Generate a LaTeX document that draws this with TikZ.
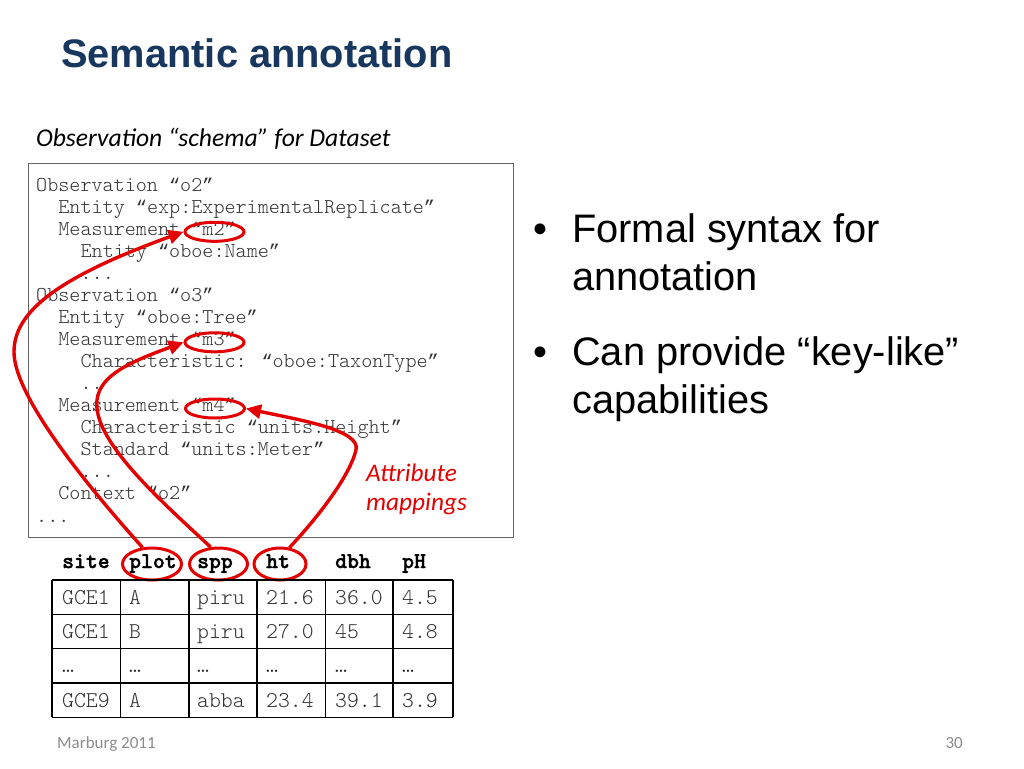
\documentclass[tikz,border=0pt]{standalone}
\usepackage{fontspec}
\setmainfont{Liberation Sans}
\newfontfamily\codefont{Latin Modern Mono Light}
\newfontfamily\hdrfont[BoldFeatures={FakeBold=1.6}]{Latin Modern Mono Light}
\newfontfamily\quotefont{Liberation Mono}
\newfontfamily\calfont{Carlito}
\newcommand\qL{{\quotefont\fontsize{18.5}{22}\selectfont “}}
\newcommand\qR{{\quotefont\fontsize{18.5}{22}\selectfont ”}}
\usetikzlibrary{shapes.geometric,arrows.meta}
\definecolor{titleblue}{RGB}{23,55,94}
\definecolor{annred}{RGB}{228,0,0}
\definecolor{codegray}{RGB}{50,50,50}
\definecolor{footgray}{RGB}{140,140,140}
\definecolor{boxgray}{RGB}{100,100,100}
\tikzset{
  codeline/.style={anchor=base west, inner sep=0, font=\codefont\fontsize{21.1}{25}\selectfont, text=codegray},
  cell/.style={anchor=base west, inner sep=0, font=\codefont\fontsize{22.6}{26}\selectfont, text=codegray},
  hcell/.style={anchor=base west, inner sep=0, font=\hdrfont\bfseries\fontsize{22.6}{26}\selectfont, text=black},
  hl/.style={ellipse, draw=annred, line width=3pt, inner sep=0},
  maparrow/.style={draw=annred, line width=3.4pt, -{Triangle[length=15pt,width=14pt]}},
  bullettext/.style={anchor=base west, inner sep=0, font=\fontsize{39.8}{47}\selectfont, text=black},
  redtext/.style={anchor=base west, inner sep=0, font=\calfont\itshape\fontsize{25.3}{30}\selectfont, text=annred},
  tline/.style={draw=black, line width=1.3pt}
}
\begin{document}
\begin{tikzpicture}[x=1pt,y=-1pt]
\useasboundingbox[fill=white] (0,0) rectangle (1024,768);

% title
\node[anchor=base west, inner sep=0, font=\bfseries\fontsize{39.8}{47}\selectfont, text=titleblue] (title) at (61,67) {Semantic annotation};

% subtitle
\node[anchor=base west, inner sep=0, font=\calfont\itshape\fontsize{25.6}{30}\selectfont] (sub) at (36,146) {Observation “schema” for Dataset};

% code box
\node[draw=boxgray, line width=1.2pt, fill=white, minimum width=485pt, minimum height=374pt, anchor=north west, inner sep=0] (box) at (28,163) {};

\node[codeline] (c0) at (36,191.0) {Observation \qL o2\qR};
\node[codeline] (c1) at (58.2,213.07) {Entity \qL exp:ExperimentalReplicate\qR};
\node[codeline] (c2) at (58.2,235.14) {Measurement \qL m2\qR};
\node[codeline] (c3) at (80.4,257.21) {Entity \qL oboe:Name\qR};
\node[codeline] (c4) at (80.4,279.28) {...};
\node[codeline] (c5) at (36,301.35) {Observation \qL o3\qR};
\node[codeline] (c6) at (58.2,323.42) {Entity \qL oboe:Tree\qR};
\node[codeline] (c7) at (58.2,345.49) {Measurement \qL m3\qR};
\node[codeline] (c8) at (80.4,367.56) {Characteristic: \qL oboe:TaxonType\qR};
\node[codeline] (c9) at (80.4,389.63) {..};
\node[codeline] (c10) at (58.2,411.7) {Measurement \qL m4\qR};
\node[codeline] (c11) at (80.4,433.77) {Characteristic \qL units:Height\qR};
\node[codeline] (c12) at (80.4,455.84) {Standard \qL units:Meter\qR};
\node[codeline] (c13) at (80.4,477.91) {...};
\node[codeline] (c14) at (58.2,499.98) {Context \qL o2\qR};
\node[codeline] (c15) at (36,522.05) {...};

% highlight ellipses in code
\node[hl, minimum width=59pt, minimum height=19pt] (em2) at (214.5,231.8) {};
\node[hl, minimum width=59pt, minimum height=19pt] (em3) at (214.5,342.3) {};
\node[hl, minimum width=59pt, minimum height=19pt] (em4) at (215,408.5) {};

% Attribute mappings label
\node[redtext] (lab1) at (366,481) {Attribute};
\node[redtext] (lab2) at (366,510) {mappings};

% table header
\node[hcell] (hsite) at (62,568) {site};
\node[hcell] (hplot) at (129,568) {plot};
\node[hcell] (hspp) at (197,568) {spp};
\node[hcell] (hht) at (266,568) {ht};
\node[hcell] (hdbh) at (335,568) {dbh};
\node[hcell] (hph) at (402,568) {pH};

\node[hl, minimum width=59pt, minimum height=32pt] (eplot) at (152,564) {};
\node[hl, minimum width=58pt, minimum height=32pt] (espp) at (218.5,564) {};
\node[hl, minimum width=52pt, minimum height=32pt] (eht) at (280,564) {};

% table grid
\foreach \yy in {580,614.3,648.6,682.9,717.2}
  \draw[tline] (52,\yy) -- (453,\yy);
\foreach \xx in {52,120.5,189,257,325.5,393,453}
  \draw[tline] (\xx,580) -- (\xx,717.2);

% table cells
\node[cell] (r1c1) at (62,604) {GCE1};
\node[cell] (r1c2) at (129,604) {A};
\node[cell] (r1c3) at (197,604) {piru};
\node[cell] (r1c4) at (266,604) {21.6};
\node[cell] (r1c5) at (335,604) {36.0};
\node[cell] (r1c6) at (402,604) {4.5};

\node[cell] (r2c1) at (62,638.3) {GCE1};
\node[cell] (r2c2) at (129,638.3) {B};
\node[cell] (r2c3) at (197,638.3) {piru};
\node[cell] (r2c4) at (266,638.3) {27.0};
\node[cell] (r2c5) at (335,638.3) {45};
\node[cell] (r2c6) at (402,638.3) {4.8};

\node[cell] (r3c1) at (62,672.6) {…};
\node[cell] (r3c2) at (129,672.6) {…};
\node[cell] (r3c3) at (197,672.6) {…};
\node[cell] (r3c4) at (266,672.6) {…};
\node[cell] (r3c5) at (335,672.6) {…};
\node[cell] (r3c6) at (402,672.6) {…};

\node[cell] (r4c1) at (62,707) {GCE9};
\node[cell] (r4c2) at (129,707) {A};
\node[cell] (r4c3) at (197,707) {abba};
\node[cell] (r4c4) at (266,707) {23.4};
\node[cell] (r4c5) at (335,707) {39.1};
\node[cell] (r4c6) at (402,707) {3.9};

% mapping arrows
\draw[maparrow] (eplot.120) .. controls (100,500) and (14,400) .. (14,352)
   .. controls (14,315) and (50,280) .. (em2.west);
\draw[maparrow] (espp.115) .. controls (160,500) and (92,440) .. (97,400)
   .. controls (100,375) and (130,362) .. (em3.west);
\draw[maparrow] (eht.60) .. controls (320,515) and (350,475) .. (356,450)
   .. controls (361,430) and (300,420) .. (em4.east);

% bullets
\node[bullettext] (b1) at (533,242) {•};
\node[bullettext] (t1a) at (572,242) {Formal syntax for};
\node[bullettext] (t1b) at (572,290) {annotation};
\node[bullettext] (b2) at (533,365) {•};
\node[bullettext] (t2a) at (572,365) {Can provide “key-like”};
\node[bullettext] (t2b) at (572,413) {capabilities};

% footer
\node[anchor=base west, inner sep=0, font=\calfont\fontsize{17}{20}\selectfont, text=footgray] (foot) at (57,748) {Marburg 2011};
\node[anchor=base east, inner sep=0, font=\calfont\fontsize{17}{20}\selectfont, text=footgray] (pnum) at (963,748) {30};
\end{tikzpicture}
\end{document}
